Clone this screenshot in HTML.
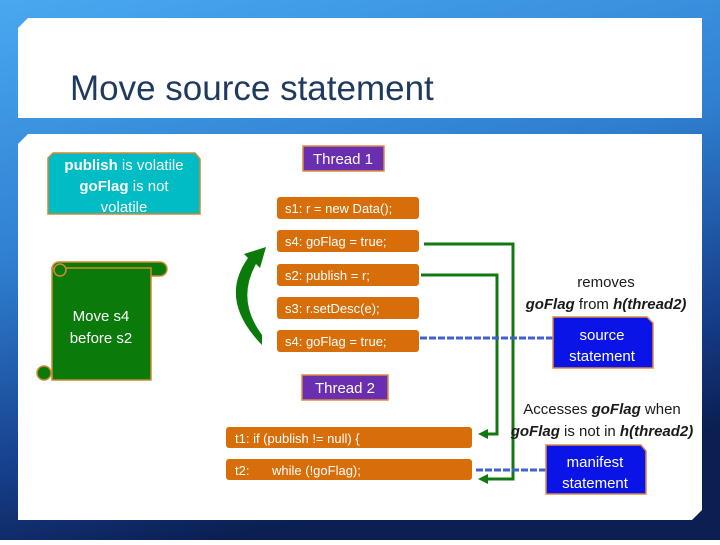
<!DOCTYPE html>
<html><head><meta charset="utf-8"><style>
body{margin:0;width:720px;height:540px;overflow:hidden;font-family:"Liberation Sans",sans-serif;}
</style></head><body>
<svg width="720" height="540" xmlns="http://www.w3.org/2000/svg" font-family="Liberation Sans, sans-serif">
<defs>
<linearGradient id="bg" x1="0" y1="0" x2="0.3" y2="1">
<stop offset="0" stop-color="#49a8f0"/><stop offset="0.45" stop-color="#2f7fd0"/><stop offset="0.8" stop-color="#163f8c"/><stop offset="1" stop-color="#0b1f52"/>
</linearGradient>
<marker id="ga" markerWidth="10" markerHeight="10" refX="4" refY="5" orient="auto" markerUnits="userSpaceOnUse"><path d="M0,0 L10,5 L0,10 Z" fill="#107a10"/></marker>
</defs>
<rect width="720" height="540" fill="url(#bg)"/>
<path d="M28,18 H702 V118 H18 V28 Z" fill="#fff"/>
<path d="M28,134 H702 V510 L692,520 H18 V144 Z" fill="#fff"/>
<text x="70" y="100" font-size="35" fill="#1f3a5f">Move source statement</text>

<path d="M53,153 H195 L200,159 V214 H48 V158 Z" fill="#00bcc4" stroke="#d08a30" stroke-width="1.5"/>
<g fill="#fff" font-size="15" text-anchor="middle">
<text x="124" y="170"><tspan font-weight="bold">publish</tspan> is volatile</text>
<text x="124" y="191"><tspan font-weight="bold">goFlag</tspan> is not</text>
<text x="124" y="212">volatile</text>
</g>

<!-- scroll -->
<rect x="52" y="262" width="115" height="14" rx="7" fill="#0a7a0a" stroke="#d08a30" stroke-width="1.5"/>
<rect x="52" y="268" width="99" height="112" fill="#0a7a0a" stroke="#d08a30" stroke-width="1.5"/>
<circle cx="60" cy="270" r="6" fill="#0a7a0a" stroke="#d08a30" stroke-width="1.5"/>
<circle cx="44" cy="373" r="7" fill="#0a7a0a" stroke="#d08a30" stroke-width="1.5"/>
<text x="101" y="321" fill="#fff" font-size="15" text-anchor="middle">Move s4</text>
<text x="101" y="343" fill="#fff" font-size="15" text-anchor="middle">before s2</text>

<!-- curved arrow -->
<path d="M262,345 Q218,300 248,258 L244,254 L266,247 L260,268 L256,264 Q236,300 262,335 Z" fill="#0a7a0a"/>

<rect x="303" y="146" width="81" height="25" fill="#6a2fb0" stroke="#e08a40" stroke-width="1.5"/>
<text x="343" y="164" fill="#fff" font-size="15" text-anchor="middle">Thread 1</text>
<rect x="302" y="375" width="86" height="25" fill="#6a2fb0" stroke="#e08a40" stroke-width="1.5"/>
<text x="345" y="393" fill="#fff" font-size="15" text-anchor="middle">Thread 2</text>

<g fill="#d86e0a">
<rect x="277" y="197" width="142" height="22" rx="3"/>
<rect x="277" y="230" width="142" height="22" rx="3"/>
<rect x="277" y="264" width="142" height="22" rx="3"/>
<rect x="277" y="297" width="142" height="22" rx="3"/>
<rect x="277" y="330" width="142" height="22" rx="3"/>
<rect x="226" y="427" width="246" height="21" rx="3"/>
<rect x="226" y="459" width="246" height="21" rx="3"/>
</g>
<g fill="#fff" font-size="13">
<text x="285" y="213">s1: r = new Data();</text>
<text x="285" y="246">s4: goFlag = true;</text>
<text x="285" y="280">s2: publish = r;</text>
<text x="285" y="313">s3: r.setDesc(e);</text>
<text x="285" y="346">s4: goFlag = true;</text>
<text x="235" y="443">t1: if (publish != null) {</text>
<text x="235" y="475">t2:</text>
<text x="272" y="475">while (!goFlag);</text>
</g>

<g fill="none" stroke="#107a10" stroke-width="3">
<path d="M424,244 H513 V479 H484" marker-end="url(#ga)"/>
<path d="M421,275 H497 V434 H484" marker-end="url(#ga)"/>
</g>
<g stroke="#4060d0" stroke-width="3" stroke-dasharray="7,2">
<line x1="420" y1="338" x2="553" y2="338"/>
<line x1="476" y1="470" x2="546" y2="470"/>
</g>

<g font-size="15" fill="#1a1a1a" text-anchor="middle">
<text x="606" y="287">removes</text>
<text x="606" y="309"><tspan font-weight="bold" font-style="italic">goFlag</tspan> from <tspan font-weight="bold" font-style="italic">h(thread2)</tspan></text>
<text x="602" y="414">Accesses <tspan font-weight="bold" font-style="italic">goFlag</tspan> when</text>
<text x="602" y="436"><tspan font-weight="bold" font-style="italic">goFlag</tspan> is not in <tspan font-weight="bold" font-style="italic">h(thread2)</tspan></text>
</g>

<path d="M553,317 H647 L653,323 V368 H553 Z" fill="#0a14e6" stroke="#e08a40" stroke-width="1.5"/>
<text x="602" y="340" fill="#fff" font-size="15" text-anchor="middle">source</text>
<text x="602" y="361" fill="#fff" font-size="15" text-anchor="middle">statement</text>
<path d="M546,445 H641 L646,451 V494 H546 Z" fill="#0a14e6" stroke="#e08a40" stroke-width="1.5"/>
<text x="595" y="467" fill="#fff" font-size="15" text-anchor="middle">manifest</text>
<text x="595" y="488" fill="#fff" font-size="15" text-anchor="middle">statement</text>
</svg>
</body></html>
